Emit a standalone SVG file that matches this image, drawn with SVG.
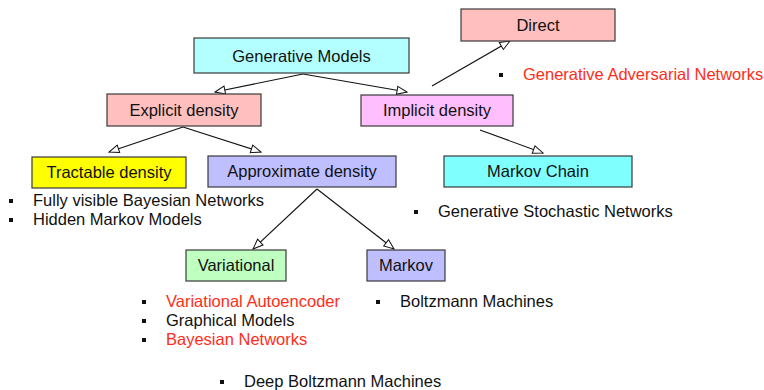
<svg xmlns="http://www.w3.org/2000/svg" width="764" height="390" viewBox="0 0 764 390">
<style>
  .box { stroke: #3a3a3a; stroke-width: 1.2; }
  .lbl { font-family: "Liberation Sans", Arial, Helvetica, sans-serif; font-size: 16.5px; fill: #111; text-anchor: middle; }
  .item { font-family: "Liberation Sans", Arial, Helvetica, sans-serif; font-size: 16.5px; fill: #111; }
  .red { fill: #ff2d19; }
  .edge { stroke: #111; stroke-width: 1.1; fill: none; marker-end: url(#tri); }
  .bullet { fill: #111; }
</style>
<defs>
  <marker id="tri" markerUnits="userSpaceOnUse" markerWidth="12" markerHeight="10" refX="10" refY="4" orient="auto" viewBox="-1 -1 12 10">
    <path d="M0,0 L10,4 L0,8 Z" fill="#fff" stroke="#111" stroke-width="1"/>
  </marker>
</defs>
<rect width="764" height="390" fill="#fff"/>

<g id="connectors">
  <line class="edge" x1="303" y1="74" x2="215" y2="92"/>
  <line class="edge" x1="303" y1="74" x2="407" y2="92"/>
  <line class="edge" x1="183" y1="127" x2="109" y2="152"/>
  <line class="edge" x1="183" y1="127" x2="261" y2="152"/>
  <line class="edge" x1="317" y1="189" x2="253" y2="249"/>
  <line class="edge" x1="317" y1="189" x2="394" y2="249"/>
  <line class="edge" x1="432" y1="86" x2="510" y2="41"/>
  <line class="edge" x1="480" y1="130" x2="543" y2="153"/>
</g>

<g id="generative-models">
  <rect class="box" x="194" y="38" width="215" height="35" fill="#b3ffff"/>
  <text class="lbl" x="301.5" y="62">Generative Models</text>
</g>
<g id="explicit-density">
  <rect class="box" x="107" y="94" width="154" height="32" fill="#ffbfbf"/>
  <text class="lbl" x="184" y="116">Explicit density</text>
</g>
<g id="implicit-density">
  <rect class="box" x="361" y="95" width="152" height="31" fill="#ffbfff"/>
  <text class="lbl" x="437" y="116">Implicit density</text>
</g>
<g id="direct">
  <rect class="box" x="461" y="9" width="154" height="32" fill="#ffbfbf"/>
  <text class="lbl" x="538" y="31">Direct</text>
</g>
<g id="tractable-density">
  <rect class="box" x="32" y="157" width="154" height="31" fill="#ffff00"/>
  <text class="lbl" x="109" y="178">Tractable density</text>
</g>
<g id="approximate-density">
  <rect class="box" x="208" y="156" width="188" height="31" fill="#bfbfff"/>
  <text class="lbl" x="302" y="177">Approximate density</text>
</g>
<g id="markov-chain">
  <rect class="box" x="444" y="156" width="188" height="31" fill="#80ffff"/>
  <text class="lbl" x="538" y="177">Markov Chain</text>
</g>
<g id="variational">
  <rect class="box" x="186" y="250" width="100" height="31" fill="#bfffbf"/>
  <text class="lbl" x="236" y="271">Variational</text>
</g>
<g id="markov">
  <rect class="box" x="367" y="250" width="78" height="31" fill="#bfbfff"/>
  <text class="lbl" x="406" y="271">Markov</text>
</g>

<g id="lists">
  <rect class="bullet" x="9" y="199" width="4" height="4"/>
  <text class="item" x="33" y="206">Fully visible Bayesian Networks</text>
  <rect class="bullet" x="9" y="218" width="4" height="4"/>
  <text class="item" x="33" y="225">Hidden Markov Models</text>

  <rect class="bullet" x="499" y="73" width="4" height="4"/>
  <text class="item red" x="523" y="80">Generative Adversarial Networks</text>

  <rect class="bullet" x="414" y="210" width="4" height="4"/>
  <text class="item" x="438" y="217">Generative Stochastic Networks</text>

  <rect class="bullet" x="142" y="300" width="4" height="4"/>
  <text class="item red" x="166" y="307">Variational Autoencoder</text>
  <rect class="bullet" x="142" y="319" width="4" height="4"/>
  <text class="item" x="166" y="326">Graphical Models</text>
  <rect class="bullet" x="142" y="338" width="4" height="4"/>
  <text class="item red" x="166" y="345">Bayesian Networks</text>

  <rect class="bullet" x="376" y="300" width="4" height="4"/>
  <text class="item" x="400" y="307">Boltzmann Machines</text>

  <rect class="bullet" x="220" y="380" width="4" height="4"/>
  <text class="item" x="244" y="387">Deep Boltzmann Machines</text>
</g>
</svg>
